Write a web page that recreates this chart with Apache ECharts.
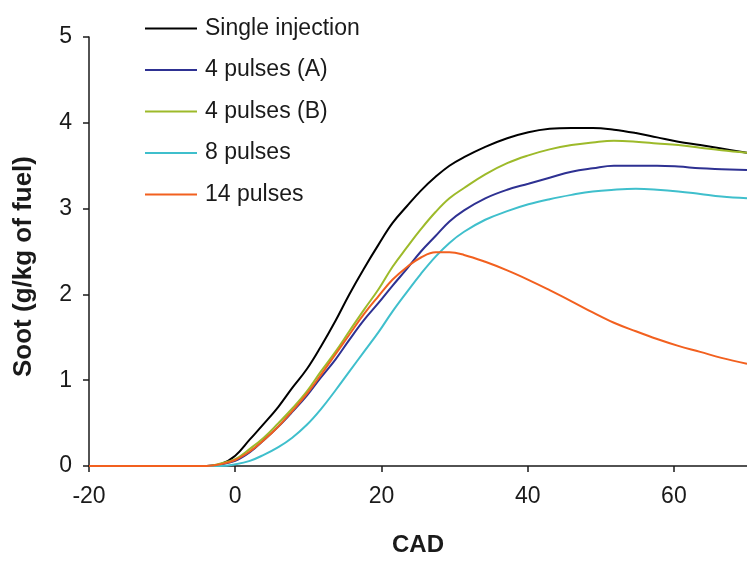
<!DOCTYPE html>
<html>
<head>
<meta charset="utf-8">
<script src="https://cdn.jsdelivr.net/npm/echarts@6/dist/echarts.min.js"></script>
<style>html,body{margin:0;padding:0;background:#fff;}#c{width:747px;height:562px;}</style>
</head>
<body>
<div id="c"></div>
<script>
var cad = [-20, -3.9, -2, 0, 2, 3.9, 5.9, 7.8, 9.8, 11.7, 13.7, 15.6, 17.6, 19.6, 21.5, 23.5, 25.4, 27.4, 29.3, 31.3, 34.2, 37.2, 40.1, 43, 46, 48.9, 51.8, 54.8, 57.7, 60.6, 63.6, 66.5, 70];
var singleInjection = [0, 0, 0.02, 0.12, 0.31, 0.49, 0.69, 0.91, 1.13, 1.39, 1.69, 2.0, 2.3, 2.58, 2.83, 3.03, 3.21, 3.37, 3.5, 3.6, 3.72, 3.82, 3.89, 3.93, 3.94, 3.94, 3.92, 3.88, 3.83, 3.78, 3.74, 3.7, 3.65];
var pulses4A = [0, 0, 0.02, 0.06, 0.16, 0.3, 0.46, 0.63, 0.82, 1.03, 1.24, 1.47, 1.7, 1.9, 2.1, 2.3, 2.5, 2.68, 2.85, 2.98, 3.12, 3.22, 3.29, 3.36, 3.43, 3.47, 3.5, 3.5, 3.5, 3.49, 3.47, 3.46, 3.45];
var pulses4B = [0, 0, 0.03, 0.08, 0.2, 0.33, 0.5, 0.67, 0.87, 1.1, 1.33, 1.57, 1.82, 2.06, 2.32, 2.55, 2.76, 2.96, 3.12, 3.24, 3.4, 3.53, 3.62, 3.69, 3.74, 3.77, 3.79, 3.78, 3.76, 3.74, 3.71, 3.68, 3.65];
var pulses8 = [0, 0, 0, 0.02, 0.06, 0.13, 0.22, 0.33, 0.48, 0.66, 0.88, 1.1, 1.33, 1.56, 1.8, 2.03, 2.24, 2.44, 2.6, 2.73, 2.87, 2.97, 3.05, 3.11, 3.16, 3.2, 3.22, 3.23, 3.22, 3.2, 3.17, 3.14, 3.12];
var pulses14 = [0, 0, 0.02, 0.07, 0.17, 0.3, 0.46, 0.64, 0.84, 1.06, 1.3, 1.53, 1.77, 1.98, 2.17, 2.32, 2.43, 2.49, 2.49, 2.46, 2.38, 2.28, 2.17, 2.05, 1.92, 1.79, 1.67, 1.57, 1.48, 1.4, 1.33, 1.26, 1.19];
var seriesNames = ['Single injection', '4 pulses (A)', '4 pulses (B)', '8 pulses', '14 pulses'];
var seriesColors = ['#000000', '#2e3192', '#9dba2a', '#3fbfcc', '#f2601f'];
var seriesValues = [singleInjection, pulses4A, pulses4B, pulses8, pulses14];

function pairs(vals) { return cad.map(function (x, i) { return [x, vals[i]]; }); }

var font = 'Arial, "Liberation Sans", sans-serif';
var ink = '#1a1a1a';
var chart = echarts.init(document.getElementById('c'), null, { renderer: 'canvas' });
chart.setOption({
  backgroundColor: '#ffffff',
  animation: false,
  grid: { left: 89, top: 37, right: 0, bottom: 96, containLabel: false },
  legend: {
    orient: 'vertical', left: 140, top: 12,
    icon: 'rect', itemWidth: 52, itemHeight: 2, itemGap: 18.5,
    textStyle: { fontFamily: font, fontSize: 23, color: ink, padding: [0, 0, 0, 3] },
    data: seriesNames
  },
  xAxis: {
    type: 'value', min: -20, max: 70, interval: 20,
    name: 'CAD', nameLocation: 'middle', nameGap: 67,
    nameTextStyle: { fontFamily: font, fontSize: 24, fontWeight: 'bold', color: ink },
    axisLine: { show: true, lineStyle: { color: ink, width: 1.5 } },
    axisTick: { show: true, inside: false, length: 6, lineStyle: { color: ink, width: 1.5 } },
    axisLabel: { fontFamily: font, fontSize: 23, color: ink, margin: 19, showMaxLabel: false },
    splitLine: { show: false }
  },
  yAxis: {
    type: 'value', min: 0, max: 5, interval: 1,
    name: 'Soot (g/kg of fuel)', nameLocation: 'middle', nameGap: 52,
    nameTextStyle: { fontFamily: font, fontSize: 26, fontWeight: 'bold', color: ink, padding: [0, 30, 0, 0] },
    axisLine: { show: true, onZero: false, lineStyle: { color: ink, width: 1.5 } },
    axisTick: { show: true, inside: false, length: 6, lineStyle: { color: ink, width: 1.5 } },
    axisLabel: { fontFamily: font, fontSize: 23, color: ink, margin: 17 },
    splitLine: { show: false }
  },
  series: seriesNames.map(function (n, i) {
    return {
      name: n, type: 'line', data: pairs(seriesValues[i]),
      showSymbol: false, smooth: 0.4,
      lineStyle: { color: seriesColors[i], width: 2 },
      itemStyle: { color: seriesColors[i] },
      z: i === 4 ? 3 : 2
    };
  })
});
</script>
</body>
</html>
